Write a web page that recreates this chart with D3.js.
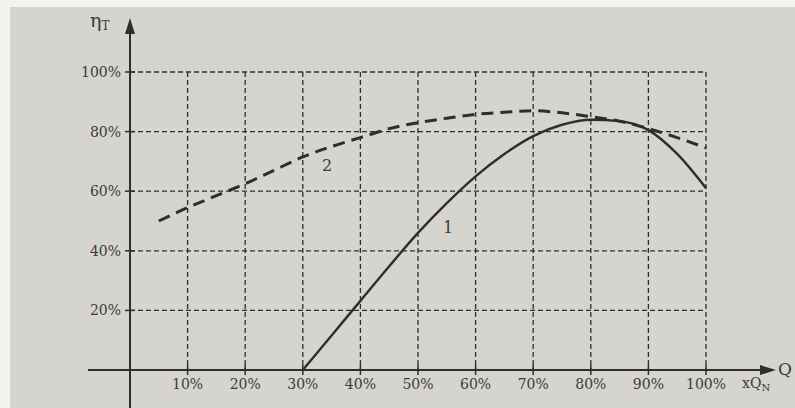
<!DOCTYPE html>
<html>
<head>
<meta charset="utf-8">
<script src="https://cdn.jsdelivr.net/npm/d3@7"></script>
<style>
  html, body { margin: 0; padding: 0; background: #f3f2ef; }
  svg { display: block; }
  text { font-family: "DejaVu Serif", serif; fill: #3b3b3b; }
</style>
</head>
<body>
<svg id="chart" width="795" height="408"></svg>
<script>
// tick values (percent of nominal flow / efficiency)
const xTicks = [10, 20, 30, 40, 50, 60, 70, 80, 90, 100];
const yTicks = [20, 40, 60, 80, 100];

// curve 1 (solid)
const q1 = [30, 35, 40, 45, 50, 55, 60, 65, 70, 75, 80, 85, 90, 95, 100];
const eta1 = [0, 11.6, 23.2, 34.8, 46, 56, 65, 72.5, 78.5, 82.3, 84, 83.5, 80.5, 72.5, 61];

// curve 2 (dashed)
const q2 = [5, 10, 15, 20, 25, 30, 35, 40, 45, 50, 55, 60, 65, 70, 75, 80, 85, 90, 95, 100];
const eta2 = [50, 54.5, 58.5, 62.5, 67, 71.5, 75, 78, 81, 83, 84.5, 85.8, 86.5, 87, 86.3, 85, 83.5, 81, 78, 74.5];

const svg = d3.select("#chart");
const ink = "#2e2e2e";

// paper
svg.append("rect")
    .attr("x", 10).attr("y", 7)
    .attr("width", 785).attr("height", 401)
    .attr("fill", "#d6d4cf");

const x = d3.scaleLinear().domain([0, 100]).range([130, 706]);
const y = d3.scaleLinear().domain([0, 100]).range([370, 72]);

// grid
const grid = svg.append("g")
    .attr("stroke", ink)
    .attr("stroke-width", 1.3)
    .attr("stroke-dasharray", "5,3");

grid.selectAll(".h")
    .data(yTicks)
    .enter()
    .append("line")
    .attr("x1", x(0)).attr("x2", x(100))
    .attr("y1", (d) => y(d)).attr("y2", (d) => y(d));

grid.selectAll(".v")
    .data(xTicks)
    .enter()
    .append("line")
    .attr("x1", (d) => x(d)).attr("x2", (d) => x(d))
    .attr("y1", y(100)).attr("y2", y(0));

// axes
const axes = svg.append("g").attr("stroke", ink).attr("stroke-width", 2);
axes.append("line")
    .attr("x1", x(0)).attr("x2", x(0))
    .attr("y1", 408).attr("y2", 32);
axes.append("line")
    .attr("x1", 88).attr("x2", 762)
    .attr("y1", y(0)).attr("y2", y(0));

// arrow heads
svg.append("path")
    .attr("d", `M${x(0) - 5},${34} L${x(0)},${18} L${x(0) + 5},${34} Z`)
    .attr("fill", ink);
svg.append("path")
    .attr("d", `M${760},${y(0) - 5} L${776},${y(0)} L${760},${y(0) + 5} Z`)
    .attr("fill", ink);

// tick marks
const ticks = svg.append("g").attr("stroke", ink).attr("stroke-width", 1.5);
ticks.selectAll(".yt")
    .data(yTicks)
    .enter()
    .append("line")
    .attr("x1", x(0) - 5).attr("x2", x(0) + 5)
    .attr("y1", (d) => y(d)).attr("y2", (d) => y(d));
ticks.selectAll(".xt")
    .data(xTicks)
    .enter()
    .append("line")
    .attr("x1", (d) => x(d)).attr("x2", (d) => x(d))
    .attr("y1", y(0) - 5).attr("y2", y(0) + 5);

// tick labels
svg.selectAll(".ylab")
    .data(yTicks)
    .enter()
    .append("text")
    .attr("x", x(0) - 9)
    .attr("y", (d) => y(d) + 5)
    .attr("text-anchor", "end")
    .attr("font-size", 14)
    .text((d) => d + "%");

svg.selectAll(".xlab")
    .data(xTicks)
    .enter()
    .append("text")
    .attr("x", (d) => x(d))
    .attr("y", y(0) + 19)
    .attr("text-anchor", "middle")
    .attr("font-size", 14)
    .text((d) => d + "%");

// axis titles
const eta = svg.append("text").attr("x", 90).attr("y", 27).attr("font-size", 19);
eta.append("tspan").text("η");
eta.append("tspan").attr("font-size", 12).attr("dy", 3).text("T");

svg.append("text")
    .attr("x", 778).attr("y", y(0) + 5)
    .attr("font-size", 17)
    .text("Q");

const xq = svg.append("text").attr("x", 742).attr("y", y(0) + 18).attr("font-size", 14);
xq.append("tspan").text("xQ");
xq.append("tspan").attr("font-size", 10).attr("dy", 3).text("N");

// curves
const line = d3.line()
    .x((d) => x(d[0]))
    .y((d) => y(d[1]))
    .curve(d3.curveMonotoneX);

svg.append("path")
    .datum(d3.zip(q1, eta1))
    .attr("d", line)
    .attr("fill", "none")
    .attr("stroke", ink)
    .attr("stroke-width", 2.4);

svg.append("path")
    .datum(d3.zip(q2, eta2))
    .attr("d", line)
    .attr("fill", "none")
    .attr("stroke", ink)
    .attr("stroke-width", 3)
    .attr("stroke-dasharray", "12,7");

// curve labels
svg.append("text").attr("x", 322).attr("y", 171).attr("font-size", 16).text("2");
svg.append("text").attr("x", 443).attr("y", 233).attr("font-size", 16).text("1");
</script>
</body>
</html>
